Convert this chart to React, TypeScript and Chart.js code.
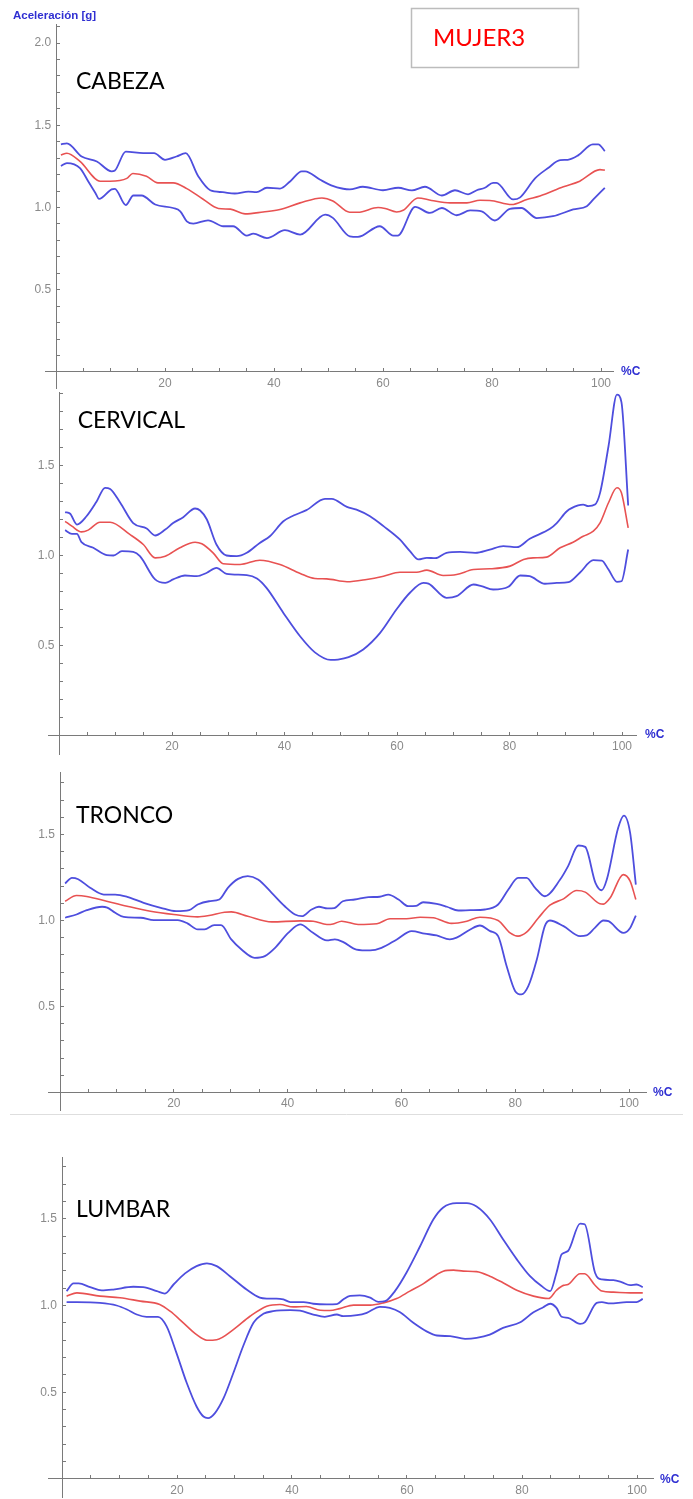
import React, { useEffect, useRef } from 'react';
import { Chart, registerables } from 'chart.js';

Chart.register(...registerables);

// ---------- DATA ----------
// Eje X: % del ciclo (%C); Eje Y: aceleración [g]
const xTickValues = [0, 5, 10, 15, 20, 25, 30, 35, 40, 45, 50, 55, 60, 65, 70, 75, 80, 85, 90, 95, 100];
const xTickLabels = ['', '', '', '', '20', '', '', '', '40', '', '', '', '60', '', '', '', '80', '', '', '', '100'];
const yLabelValuesTop = [0.5, 1.0, 1.5, 2.0];
const yLabelValues = [0.5, 1.0, 1.5];

// CABEZA
const cabSupX = [0.9, 2, 4.7, 7.5, 10.2, 10.8, 12.8, 16, 18, 20, 22.1, 23.8, 26.1, 28.3, 30.6, 32.8, 35.3, 36.8, 38.7, 41.1, 43, 45.1, 45.7, 48.4, 50.5, 52.7, 53.9, 56.3, 60, 62.8, 65.3, 67.7, 70.8, 73.2, 75.6, 77.2, 78.7, 80.2, 80.8, 83.9, 85.1, 87.9, 90.3, 92.5, 93.9, 95.8, 98.5, 99.5, 100.7];
const cabSupY = [1.384, 1.39, 1.31, 1.28, 1.22, 1.225, 1.34, 1.33, 1.33, 1.29, 1.31, 1.33, 1.19, 1.105, 1.093, 1.085, 1.097, 1.093, 1.12, 1.115, 1.16, 1.22, 1.22, 1.17, 1.135, 1.114, 1.11, 1.126, 1.105, 1.12, 1.104, 1.126, 1.073, 1.105, 1.08, 1.105, 1.12, 1.15, 1.15, 1.049, 1.06, 1.177, 1.24, 1.288, 1.29, 1.317, 1.384, 1.384, 1.343];
const cabMedX = [0.9, 2, 4.4, 8.1, 9.9, 13, 14.1, 16.6, 18.7, 21.5, 24, 27, 29.8, 32, 34.7, 38, 41.1, 44.8, 48.8, 50.8, 53.9, 55.4, 59.1, 60.4, 62.5, 63.7, 66.4, 68.9, 72.3, 75.4, 77.8, 79.6, 83.6, 86.4, 88.8, 93.1, 96.1, 99.8, 100.7];
const cabMedY = [1.32, 1.33, 1.28, 1.16, 1.16, 1.177, 1.207, 1.19, 1.15, 1.15, 1.115, 1.05, 0.994, 0.99, 0.961, 0.973, 0.988, 1.028, 1.058, 1.04, 0.971, 0.971, 1.0, 0.994, 0.973, 0.983, 1.058, 1.043, 1.028, 1.028, 1.044, 1.043, 1.018, 1.049, 1.07, 1.126, 1.16, 1.23, 1.227];
const cabInfX = [0.9, 2, 4.4, 5.9, 7.2, 7.9, 10.2, 10.8, 12.8, 14.2, 15.7, 18.2, 21.5, 22.8, 24, 25.2, 27.9, 30.7, 32.5, 35, 36.2, 38.7, 42, 44.8, 49.4, 50.8, 53.9, 55.4, 59.4, 61.9, 62.7, 65.9, 68.6, 70.8, 73.5, 76, 78.1, 80.5, 83.3, 85.4, 88.2, 91.2, 94.9, 97.4, 98.6, 100.7];
const cabInfY = [1.252, 1.27, 1.24, 1.16, 1.09, 1.052, 1.11, 1.113, 1.015, 1.073, 1.073, 1.018, 0.997, 0.977, 0.916, 0.902, 0.922, 0.886, 0.886, 0.829, 0.841, 0.814, 0.862, 0.835, 0.957, 0.937, 0.825, 0.821, 0.886, 0.829, 0.829, 1.004, 0.967, 0.997, 0.953, 0.982, 0.977, 0.921, 0.992, 0.997, 0.936, 0.947, 0.988, 1.008, 1.049, 1.12];

// CERVICAL
const cerSupX = [1, 1.9, 3.1, 4.8, 6.6, 8.1, 9, 10.8, 13.1, 15.5, 17, 18.8, 20.2, 22, 24.1, 25, 26.2, 27.9, 29.7, 31.5, 33.3, 35.6, 37.4, 39.8, 41.6, 43.9, 47.2, 48.4, 51.1, 52.8, 55.2, 57.6, 60.5, 62.3, 63.8, 65.3, 66.8, 68.8, 71.2, 73.9, 76.5, 78.9, 81.3, 83.6, 87.2, 88.4, 90.2, 92.2, 93.1, 94, 95.2, 96.1, 97.6, 99.1, 99.9, 101.1];
const cerSupY = [1.241, 1.232, 1.172, 1.218, 1.3, 1.376, 1.37, 1.293, 1.18, 1.15, 1.111, 1.144, 1.18, 1.213, 1.261, 1.25, 1.2, 1.061, 1.0, 0.996, 1.015, 1.07, 1.107, 1.19, 1.222, 1.252, 1.315, 1.315, 1.27, 1.255, 1.218, 1.163, 1.089, 1.024, 0.978, 0.987, 0.985, 1.015, 1.02, 1.015, 1.033, 1.052, 1.046, 1.093, 1.148, 1.18, 1.246, 1.278, 1.283, 1.274, 1.283, 1.348, 1.607, 1.894, 1.852, 1.278];
const cerMedX = [1, 2.2, 3.9, 5.1, 7.2, 9, 12.5, 14.9, 17, 18.8, 21.4, 24.1, 25.3, 27.3, 29.1, 32.1, 35.6, 39.2, 42.8, 45.4, 47.5, 51.1, 54.6, 57.6, 60.5, 63.5, 65.3, 68.2, 70.6, 73.6, 76.5, 80.1, 82.5, 84.2, 86.6, 89, 91.3, 93.1, 94.9, 96.1, 97.6, 99.1, 99.9, 101.1];
const cerMedY = [1.19, 1.163, 1.131, 1.141, 1.185, 1.185, 1.117, 1.061, 0.987, 0.996, 1.043, 1.074, 1.065, 1.015, 0.954, 0.95, 0.974, 0.95, 0.9, 0.872, 0.87, 0.854, 0.867, 0.885, 0.907, 0.907, 0.919, 0.889, 0.894, 0.922, 0.926, 0.941, 0.978, 0.987, 0.991, 1.043, 1.074, 1.107, 1.135, 1.181, 1.293, 1.376, 1.348, 1.154];
const cerInfX = [1, 2.2, 3.1, 3.9, 6, 8.4, 9.6, 11.1, 13.1, 14.3, 17, 18.8, 20.2, 22.3, 24.4, 26.2, 27.9, 29.7, 33.3, 35.1, 36.8, 39.8, 42.8, 45.4, 48.2, 49.5, 51.4, 54, 57, 59.9, 62.3, 64.7, 65.6, 68.8, 70.6, 73.6, 75, 77.1, 79.8, 81.9, 83.6, 86.3, 88.4, 90.5, 92.5, 94.9, 96.4, 97.6, 99.1, 99.9, 101.1];
const cerInfY = [1.141, 1.12, 1.12, 1.074, 1.043, 1.002, 1.0, 1.024, 1.02, 0.996, 0.867, 0.848, 0.867, 0.889, 0.885, 0.904, 0.931, 0.898, 0.891, 0.872, 0.82, 0.681, 0.55, 0.462, 0.42, 0.422, 0.435, 0.478, 0.57, 0.7, 0.793, 0.848, 0.844, 0.765, 0.774, 0.839, 0.83, 0.811, 0.826, 0.889, 0.885, 0.843, 0.848, 0.852, 0.904, 0.974, 0.972, 0.922, 0.854, 0.857, 1.033];

// TRONCO
const troSupX = [0.9, 2.1, 3.2, 5.3, 7.7, 9.7, 11.8, 14.7, 17.7, 20.4, 22.7, 24.2, 26.2, 28, 29.5, 31.3, 33, 34.8, 37.2, 39.5, 41.3, 42.5, 44.2, 45.5, 47, 48.2, 49.7, 51.8, 54.2, 56.2, 57.7, 59.5, 61.2, 62.6, 63.8, 66.2, 68, 70, 72.1, 74.7, 77, 78.8, 80.5, 82, 83.5, 85.2, 87.9, 89.3, 91.1, 92.3, 94.1, 95.2, 96.1, 98.1, 99.1, 100.2, 101.2];
const troSupY = [1.215, 1.248, 1.24, 1.19, 1.151, 1.151, 1.138, 1.103, 1.074, 1.054, 1.06, 1.093, 1.112, 1.122, 1.19, 1.242, 1.258, 1.238, 1.161, 1.083, 1.035, 1.025, 1.064, 1.08, 1.07, 1.072, 1.112, 1.122, 1.136, 1.138, 1.151, 1.122, 1.083, 1.085, 1.106, 1.097, 1.08, 1.058, 1.06, 1.064, 1.093, 1.18, 1.248, 1.248, 1.19, 1.141, 1.238, 1.316, 1.436, 1.428, 1.219, 1.176, 1.238, 1.539, 1.61, 1.51, 1.209];
const troMedX = [0.9, 2.9, 4.7, 8.2, 11.8, 15.9, 20, 24.2, 26.2, 28.9, 30.1, 33, 37.2, 42.2, 44.5, 46.9, 48, 49.5, 52.4, 55.7, 58, 60.9, 63.3, 65.6, 68.8, 71.5, 73.8, 77, 79.1, 80.5, 82, 84.1, 86.1, 88.5, 90.8, 92.3, 94.9, 95.5, 96.7, 99, 100.2, 101.2];
const troMedY = [1.112, 1.145, 1.14, 1.112, 1.083, 1.054, 1.035, 1.021, 1.029, 1.048, 1.05, 1.025, 0.992, 0.998, 0.996, 0.977, 0.98, 0.996, 0.977, 0.981, 1.01, 1.01, 1.019, 1.016, 0.983, 0.996, 1.019, 1.0, 0.928, 0.909, 0.932, 1.016, 1.089, 1.126, 1.174, 1.165, 1.097, 1.095, 1.132, 1.267, 1.229, 1.122];
const troInfX = [0.9, 2.9, 4.7, 7.4, 8.3, 9.7, 11.2, 14.2, 16.5, 20.7, 22.4, 24.2, 25.4, 27.1, 28.3, 30.1, 31.9, 34.2, 36, 37.8, 40.1, 42.2, 44.4, 46.9, 48.3, 49.8, 52.1, 54.5, 56.5, 59.2, 61.8, 64.1, 66.2, 68.5, 69.7, 72.1, 73.8, 75.6, 77, 78.5, 80, 81.1, 82.3, 83.8, 85.2, 86.1, 88.5, 91.4, 92.5, 94, 95.5, 96.4, 99, 100.2, 101.2];
const troInfY = [1.016, 1.035, 1.06, 1.08, 1.075, 1.045, 1.021, 1.016, 1.002, 1.002, 0.983, 0.948, 0.948, 0.973, 0.973, 0.89, 0.831, 0.783, 0.793, 0.841, 0.928, 0.977, 0.93, 0.884, 0.89, 0.874, 0.831, 0.826, 0.841, 0.89, 0.938, 0.924, 0.913, 0.89, 0.9, 0.948, 0.971, 0.938, 0.909, 0.734, 0.589, 0.57, 0.618, 0.773, 0.967, 1.0, 0.967, 0.909, 0.913, 0.957, 1.0, 0.996, 0.928, 0.957, 1.029];

// LUMBAR
const lumSupX = [0.8, 2, 2.9, 4.9, 6.9, 8.9, 12.4, 14.1, 16.5, 17.9, 19.4, 21.4, 23.4, 25.2, 26.9, 29.2, 32.1, 34.4, 35.6, 37.3, 38.5, 39.7, 40.8, 42, 43.7, 46, 47.8, 48.9, 50.1, 51.8, 53.6, 55, 56.2, 57.9, 59.9, 62.3, 64.6, 66.3, 68.6, 70.4, 72.1, 74.4, 76.7, 79.1, 81.4, 83.4, 84.9, 86, 86.9, 88, 90.1, 90.9, 92.7, 93.9, 95.9, 97.3, 98.8, 99.9, 101];
const lumSupY = [1.083, 1.127, 1.127, 1.106, 1.087, 1.092, 1.108, 1.106, 1.083, 1.069, 1.121, 1.185, 1.227, 1.243, 1.227, 1.169, 1.092, 1.045, 1.04, 1.04, 1.035, 1.02, 1.02, 1.02, 1.01, 1.006, 1.008, 1.035, 1.056, 1.058, 1.045, 1.021, 1.025, 1.083, 1.189, 1.343, 1.497, 1.565, 1.59, 1.59, 1.57, 1.497, 1.382, 1.266, 1.169, 1.112, 1.083, 1.189, 1.295, 1.314, 1.472, 1.468, 1.189, 1.15, 1.146, 1.135, 1.117, 1.121, 1.106];
const lumMedX = [0.8, 2.6, 6.6, 10.1, 13.6, 17, 18.8, 21.1, 23.4, 25.2, 26.9, 29.8, 32.7, 35.6, 37.9, 40.2, 42.5, 44.9, 46.6, 48.3, 50.7, 53.6, 55.9, 58.2, 60.5, 62.8, 65.2, 66.3, 68.1, 69.8, 72.1, 74.4, 76.7, 79.1, 82, 84.6, 86, 87.2, 88, 90.1, 90.9, 92.7, 93.9, 95.9, 98.8, 101];
const lumMedY = [1.054, 1.073, 1.054, 1.045, 1.025, 1.006, 0.967, 0.9, 0.832, 0.8, 0.803, 0.861, 0.938, 0.996, 1.006, 0.992, 0.994, 0.973, 0.971, 0.982, 1.002, 1.002, 1.015, 1.04, 1.083, 1.125, 1.179, 1.198, 1.204, 1.198, 1.195, 1.169, 1.131, 1.088, 1.054, 1.04, 1.088, 1.116, 1.121, 1.183, 1.183, 1.117, 1.083, 1.077, 1.073, 1.073];
const lumInfX = [0.8, 2.6, 6.6, 9.5, 11.3, 13, 14.7, 16.7, 18.2, 19.9, 21.7, 23.4, 24.6, 25.4, 26.6, 28.1, 29.8, 31.5, 33.3, 35, 36.7, 39.7, 41.4, 43.7, 45.7, 47.8, 48.9, 51.3, 53, 55.3, 57, 58.8, 61.1, 63.4, 65.2, 67.5, 70.1, 72.1, 74.4, 76.7, 79.7, 82, 83.7, 84.9, 86, 86.9, 88, 90.1, 90.9, 93, 93.9, 95.3, 98.2, 99.9, 101];
const lumInfY = [1.019, 1.019, 1.015, 1.0, 0.977, 0.948, 0.935, 0.935, 0.88, 0.727, 0.553, 0.418, 0.36, 0.351, 0.38, 0.466, 0.611, 0.765, 0.9, 0.952, 0.967, 0.973, 0.97, 0.948, 0.935, 0.948, 0.939, 0.944, 0.958, 0.992, 0.986, 0.961, 0.9, 0.851, 0.827, 0.823, 0.808, 0.813, 0.832, 0.871, 0.903, 0.961, 0.99, 1.01, 0.986, 0.935, 0.929, 0.894, 0.903, 1.015, 1.019, 1.012, 1.019, 1.019, 1.038];

// ---------- STYLE / LAYOUT ----------
const BLUE = 'rgb(78,78,222)';
const RED = 'rgb(232,82,82)';
const AXIS = '#7a7a7a';
const TICK_TEXT = '#8a8a8a';
const LABEL_BLUE = '#2f2fd2';
const SANS = '"Liberation Sans", Arial, sans-serif';
const TITLE_FONT = 'Lato, "Open Sans", sans-serif';

type Panel = {
  title: string;
  top: number; height: number;
  x0: number; sx: number; y0: number; sy: number;
  xmin: number; xmax: number; ymin: number; ymax: number;
  titleX: number; titleBase: number;
  pcX: number; pcY: number;
  yLabels: number[];
  series: { x: number[]; y: number[]; color: string; width: number }[];
  extra?: 'top' | 'sep';
};

const panels: Panel[] = [
  {
    title: 'CABEZA', top: 0, height: 392,
    x0: 56, sx: 5.45, y0: 372, sy: 164.5,
    xmin: -2, xmax: 102.3, ymin: -0.1, ymax: 2.11,
    titleX: 76, titleBase: 89.4, pcX: 621, pcY: 372,
    yLabels: yLabelValuesTop,
    series: [
      { x: cabSupX, y: cabSupY, color: BLUE, width: 1.8 },
      { x: cabInfX, y: cabInfY, color: BLUE, width: 1.8 },
      { x: cabMedX, y: cabMedY, color: RED, width: 1.6 },
    ],
    extra: 'top',
  },
  {
    title: 'CERVICAL', top: 392, height: 368,
    x0: 59.5, sx: 5.625, y0: 735.5, sy: 180,
    xmin: -2, xmax: 102.5, ymin: -0.105, ymax: 1.905,
    titleX: 77.7, titleBase: 428.3, pcX: 645, pcY: 735,
    yLabels: yLabelValues,
    series: [
      { x: cerSupX, y: cerSupY, color: BLUE, width: 1.8 },
      { x: cerInfX, y: cerInfY, color: BLUE, width: 1.8 },
      { x: cerMedX, y: cerMedY, color: RED, width: 1.6 },
    ],
  },
  {
    title: 'TRONCO', top: 760, height: 360,
    x0: 60, sx: 5.69, y0: 1092.5, sy: 172,
    xmin: -2.1, xmax: 103, ymin: -0.105, ymax: 1.86,
    titleX: 76, titleBase: 823.3, pcX: 653, pcY: 1093,
    yLabels: yLabelValues,
    series: [
      { x: troSupX, y: troSupY, color: BLUE, width: 1.8 },
      { x: troInfX, y: troInfY, color: BLUE, width: 1.8 },
      { x: troMedX, y: troMedY, color: RED, width: 1.6 },
    ],
    extra: 'sep',
  },
  {
    title: 'LUMBAR', top: 1120, height: 379,
    x0: 62, sx: 5.75, y0: 1479, sy: 173.5,
    xmin: -2.4, xmax: 102.8, ymin: -0.105, ymax: 1.855,
    titleX: 76, titleBase: 1216.7, pcX: 660, pcY: 1480,
    yLabels: yLabelValues,
    series: [
      { x: lumSupX, y: lumSupY, color: BLUE, width: 1.8 },
      { x: lumInfX, y: lumInfY, color: BLUE, width: 1.8 },
      { x: lumMedX, y: lumMedY, color: RED, width: 1.6 },
    ],
  },
];

const zeroFit = (s: any) => {
  if (s.isHorizontal()) s.height = 0; else s.width = 0;
  s.paddingTop = 0; s.paddingBottom = 0; s.paddingLeft = 0; s.paddingRight = 0;
};

function makeChart(canvas: HTMLCanvasElement, p: Panel) {
  const pxX = (v: number) => p.x0 + v * p.sx;
  const pxY = (v: number) => p.y0 - v * p.sy;
  const padding = {
    left: pxX(p.xmin),
    right: 693 - pxX(p.xmax),
    top: pxY(p.ymax) - p.top,
    bottom: p.top + p.height - pxY(p.ymin),
  };
  const yMinor: number[] = [];
  for (let i = 1; i / 10 <= p.ymax - 0.005; i++) yMinor.push(i / 10);

  const deco = {
    id: 'deco',
    afterDraw(chart: any) {
      const ctx = chart.ctx as CanvasRenderingContext2D;
      ctx.save();
      ctx.textAlign = 'left';
      ctx.textBaseline = 'alphabetic';
      ctx.fillStyle = '#000';
      ctx.font = `23px ${TITLE_FONT}`;
      ctx.fillText(p.title, p.titleX, p.titleBase - p.top);
      ctx.fillStyle = LABEL_BLUE;
      ctx.font = `bold 12px ${SANS}`;
      ctx.textBaseline = 'middle';
      ctx.fillText('%C', p.pcX, p.pcY - p.top);
      if (p.extra === 'top') {
        ctx.textBaseline = 'alphabetic';
        ctx.font = `bold 11.5px ${SANS}`;
        ctx.fillText('Aceleración [g]', 13, 18.5);
        ctx.strokeStyle = '#bcbcbc';
        ctx.lineWidth = 1.5;
        ctx.strokeRect(411.5, 8.5, 167, 59);
        ctx.fillStyle = '#ff0000';
        ctx.font = `24px ${TITLE_FONT}`;
        ctx.fillText('MUJER3', 433, 46);
      }
      if (p.extra === 'sep') {
        ctx.strokeStyle = '#dedede';
        ctx.lineWidth = 1;
        ctx.beginPath();
        ctx.moveTo(10, 1114.5 - p.top);
        ctx.lineTo(683, 1114.5 - p.top);
        ctx.stroke();
      }
      ctx.restore();
    },
  };

  return new Chart(canvas, {
    type: 'line',
    data: {
      datasets: p.series.map((s) => ({
        data: s.x.map((xv, i) => ({ x: xv, y: s.y[i] })),
        borderColor: s.color,
        borderWidth: s.width,
        pointRadius: 0,
        fill: false,
        cubicInterpolationMode: 'monotone' as const,
        xAxisID: 'x',
        yAxisID: 'y',
      })),
    },
    options: {
      animation: false,
      responsive: false,
      devicePixelRatio: 1,
      layout: { padding },
      plugins: { legend: { display: false }, tooltip: { enabled: false }, title: { display: false } },
      events: [],
      scales: {
        x: {
          type: 'linear',
          min: p.xmin,
          max: p.xmax,
          position: { y: 0 } as any,
          afterBuildTicks: (s: any) => { s.ticks = xTickValues.map((v) => ({ value: v })); },
          afterFit: zeroFit,
          grid: { drawOnChartArea: false, drawTicks: true, tickLength: -4, tickColor: AXIS, tickWidth: 1 },
          border: { display: true, color: AXIS, width: 1 },
          ticks: {
            autoSkip: false, maxRotation: 0, minRotation: 0, padding: 8,
            color: TICK_TEXT, font: { family: SANS, size: 12 },
            callback: (v: any) => {
              const idx = xTickValues.indexOf(Number(v));
              return idx >= 0 ? xTickLabels[idx] : '';
            },
          },
        },
        y: {
          type: 'linear',
          min: p.ymin,
          max: p.ymax,
          position: { x: 0 } as any,
          afterBuildTicks: (s: any) => { s.ticks = yMinor.map((v) => ({ value: v })); },
          afterFit: zeroFit,
          grid: { drawOnChartArea: false, drawTicks: true, tickLength: -4, tickColor: AXIS, tickWidth: 1 },
          border: { display: true, color: AXIS, width: 1 },
          ticks: { display: false },
        },
        yl: {
          type: 'linear',
          min: p.ymin,
          max: p.ymax,
          position: { x: -0.9 } as any,
          afterBuildTicks: (s: any) => { s.ticks = p.yLabels.map((v) => ({ value: v })); },
          afterFit: zeroFit,
          grid: { display: false, drawTicks: false },
          border: { display: false },
          ticks: {
            autoSkip: false, color: TICK_TEXT, font: { family: SANS, size: 12 },
            callback: (v: any) => Number(v).toFixed(1),
          },
        },
      },
    } as any,
    plugins: [deco],
  });
}

function PanelCanvas({ p }: { p: Panel }) {
  const ref = useRef<HTMLCanvasElement | null>(null);
  useEffect(() => {
    if (!ref.current) return;
    const chart = makeChart(ref.current, p);
    return () => chart.destroy();
  }, [p]);
  return (
    <canvas
      ref={ref}
      width={693}
      height={p.height}
      style={{ position: 'absolute', left: 0, top: p.top, width: 693, height: p.height, display: 'block' }}
    />
  );
}

export default function App() {
  return (
    <div style={{ position: 'absolute', left: 0, top: 0, width: 693, height: 1499, background: '#fff', overflow: 'hidden' }}>
      {panels.map((p) => (
        <PanelCanvas key={p.title} p={p} />
      ))}
    </div>
  );
}
